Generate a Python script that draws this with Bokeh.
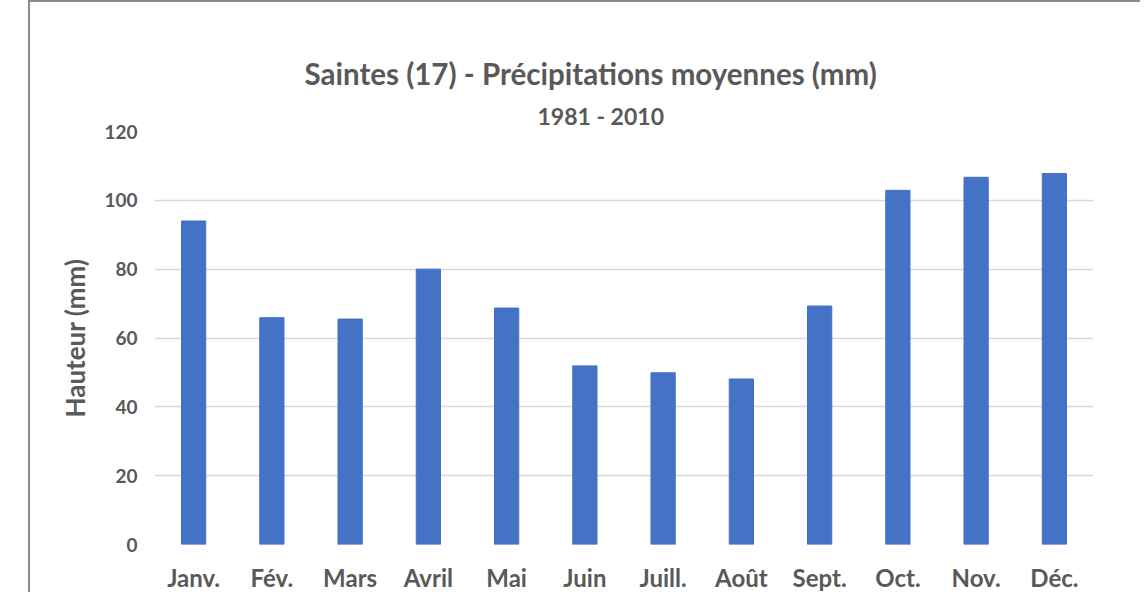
from bokeh.plotting import figure
from bokeh.models import Title, FactorRange, Range1d, FixedTicker, Spacer
from bokeh.layouts import row
from bokeh.embed import file_html
from bokeh.resources import INLINE

months = ["Janv.", "Fév.", "Mars", "Avril", "Mai", "Juin", "Juill.", "Août", "Sept.", "Oct.", "Nov.", "Déc."]
precip = [94.0, 65.9, 65.5, 80.0, 68.7, 51.9, 49.9, 48.1, 69.3, 102.9, 106.7, 107.8]
y_ticks = [0, 20, 40, 60, 80, 100, 120]
title_text = "Saintes (17) - Précipitations moyennes (mm)"
subtitle_text = "1981 - 2010"

TXT = "#595959"
FONT = "Lato"
W, H = 1112, 592

p = figure(x_range=FactorRange(*months, range_padding=0), y_range=Range1d(0, 120),
           width=W, height=H, output_backend="svg", toolbar_location=None,
           min_border_left=124, min_border_right=49, min_border_top=129, min_border_bottom=47)
p.styles = {"border-left": "2px solid #8c8c8c", "border-top": "2px solid #8c8c8c"}

p.vbar(x=months, top=precip, width=0.31, color="#4472C4")

# blank spacer band between the subtitle and the plot area
p.add_layout(Title(text=" ", align="left", standoff=14, text_font=FONT,
                   text_font_size="10px", text_alpha=0), "above")
p.add_layout(Title(text=subtitle_text, align="left", offset=383, standoff=4, text_font=FONT,
                   text_font_size="23px", text_font_style="bold", text_color=TXT), "above")
p.add_layout(Title(text=title_text, align="left", offset=150, standoff=14, text_font=FONT,
                   text_font_size="29.5px", text_font_style="bold", text_color=TXT), "above")

p.outline_line_color = None
p.xgrid.grid_line_color = None
p.ygrid.grid_line_color = "#D9D9D9"
p.ygrid.grid_line_width = 1.5
p.yaxis.ticker = FixedTicker(ticks=y_ticks)
for ax in (p.xaxis, p.yaxis):
    ax.axis_line_color = None
    ax.major_tick_line_color = None
    ax.minor_tick_line_color = None
    ax.major_tick_out = 0
    ax.major_tick_in = 0
    ax.minor_tick_out = 0
    ax.major_label_text_font = FONT
    ax.major_label_text_font_style = "bold"
    ax.major_label_text_color = TXT
p.xaxis.major_label_text_font_size = "24px"
p.yaxis.major_label_text_font_size = "19px"
p.xaxis.major_label_standoff = 18
p.yaxis.major_label_standoff = 17
p.yaxis.axis_label = "Hauteur (mm)"
p.yaxis.axis_label_text_font = FONT
p.yaxis.axis_label_text_font_size = "26px"
p.yaxis.axis_label_text_font_style = "bold"
p.yaxis.axis_label_text_color = TXT
p.yaxis.axis_label_standoff = 10

layout = row(Spacer(width=28, height=10), p)
open("out.html", "w").write(file_html(layout, INLINE))
